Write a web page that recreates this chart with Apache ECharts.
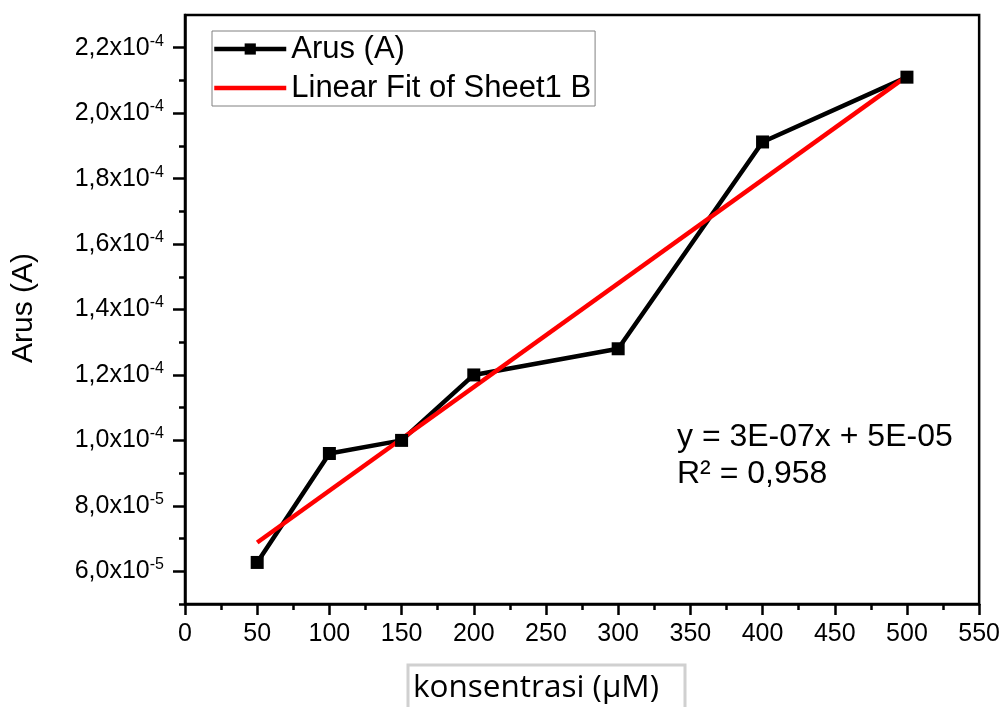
<!DOCTYPE html>
<html>
<head>
<meta charset="utf-8">
<script src="https://cdn.jsdelivr.net/npm/echarts@6/dist/echarts.min.js"></script>
<style>
  html, body { margin: 0; padding: 0; background: #fff; }
  #chart { width: 1003px; height: 707px; }
</style>
</head>
<body>
<div id="chart"></div>
<script>
// data
const konsentrasi = [50, 100, 150, 200, 300, 400, 500];
const arus = [6.27e-5, 9.6e-5, 1.0e-4, 1.2e-4, 1.28e-4, 1.912e-4, 2.11e-4];
// linear fit end points
const fitX = [50, 500];
const fitY = [6.88e-5, 2.113e-4];
// y tick values
const yMajor = [6e-5, 8e-5, 1.0e-4, 1.2e-4, 1.4e-4, 1.6e-4, 1.8e-4, 2.0e-4, 2.2e-4];
const yMinor = [5e-5, 7e-5, 9e-5, 1.1e-4, 1.3e-4, 1.5e-4, 1.7e-4, 1.9e-4, 2.1e-4];

const FONT = '"Liberation Sans", Arial, sans-serif';

function sciLabel(v) {
    const e = Math.floor(Math.log10(v) + 1e-9);
    const m = (v / Math.pow(10, e)).toFixed(1).replace('.', ',');
    return '{m|' + m + 'x10}{e|' + e + '}';
}

const myChart = echarts.init(document.getElementById('chart'));

myChart.setOption({
    animation: false,
    grid: {
        left: 185, right: 23, top: 15, bottom: 103,
        show: true,
        borderColor: '#000',
        borderWidth: 2.5
    },
    legend: {
        orient: 'vertical',
        left: 212, top: 31,
        padding: [0, 4, 0, 0],
        itemGap: 3,
        itemWidth: 72,
        itemHeight: 14,
        borderColor: '#808080',
        borderWidth: 1,
        lineStyle: { width: 4.5 },
        textStyle: { fontFamily: FONT, fontSize: 31, color: '#000', lineHeight: 36 },
        data: [
            { name: 'Arus (A)' },
            { name: 'Linear Fit of Sheet1 B', itemStyle: { opacity: 0 } }
        ]
    },
    xAxis: {
        type: 'value',
        min: 0, max: 550, interval: 50,
        splitLine: { show: false },
        axisLine: { lineStyle: { color: '#000', width: 2.5 } },
        axisTick: { length: 11, lineStyle: { color: '#000', width: 2.5 } },
        minorTick: { show: true, splitNumber: 2, length: 6, lineStyle: { color: '#000', width: 2.5 } },
        axisLabel: { fontFamily: FONT, fontSize: 25, color: '#000', margin: 18 }
    },
    yAxis: [{
        type: 'value',
        min: 5e-5, max: 2.3e-4,
        splitLine: { show: false },
        axisLine: { show: true, lineStyle: { color: '#000', width: 2.5 } },
        axisTick: { show: true, length: 12, customValues: yMajor, lineStyle: { color: '#000', width: 2.5 } },
        axisLabel: {
            customValues: yMajor,
            margin: 21,
            formatter: sciLabel,
            rich: {
                m: { fontFamily: FONT, fontSize: 25, color: '#000', lineHeight: 29 },
                e: { fontFamily: FONT, fontSize: 16, color: '#000', verticalAlign: 'top', lineHeight: 16 }
            }
        }
    }, {
        type: 'value',
        position: 'left',
        min: 5e-5, max: 2.3e-4,
        splitLine: { show: false },
        axisLine: { show: false },
        axisTick: { show: true, length: 6, customValues: yMinor, lineStyle: { color: '#000', width: 2.5 } },
        axisLabel: { show: false }
    }],
    graphic: [
        { type: 'text', x: 677, y: 437, style: { text: 'y = 3E-07x + 5E-05', font: '32px ' + FONT, fill: '#000', verticalAlign: 'middle' } },
        { type: 'text', x: 677, y: 474, style: { text: 'R² = 0,958', font: '32px ' + FONT, fill: '#000', verticalAlign: 'middle' } },
        { type: 'text', x: 24, y: 308, rotation: Math.PI / 2, style: { text: 'Arus (A)', font: '30px ' + FONT, fill: '#000', align: 'center', verticalAlign: 'middle' } },
        { type: 'rect', shape: { x: 408, y: 665, width: 277, height: 60 }, style: { fill: 'none', stroke: '#d0d0d0', lineWidth: 3 } },
        { type: 'text', x: 413, y: 688, style: { text: 'konsentrasi (µM)', font: '31.5px "Open Sans", "Noto Sans", sans-serif', fill: '#000', verticalAlign: 'middle' } }
    ],
    series: [{
        name: 'Arus (A)',
        type: 'line',
        data: konsentrasi.map((x, i) => [x, arus[i]]),
        symbol: 'rect',
        symbolSize: 13,
        itemStyle: { color: '#000' },
        lineStyle: { color: '#000', width: 4.5 }
    }, {
        name: 'Linear Fit of Sheet1 B',
        type: 'line',
        data: fitX.map((x, i) => [x, fitY[i]]),
        symbol: 'none',
        itemStyle: { color: '#ff0000' },
        lineStyle: { color: '#ff0000', width: 4.5 }
    }]
});
</script>
</body>
</html>
